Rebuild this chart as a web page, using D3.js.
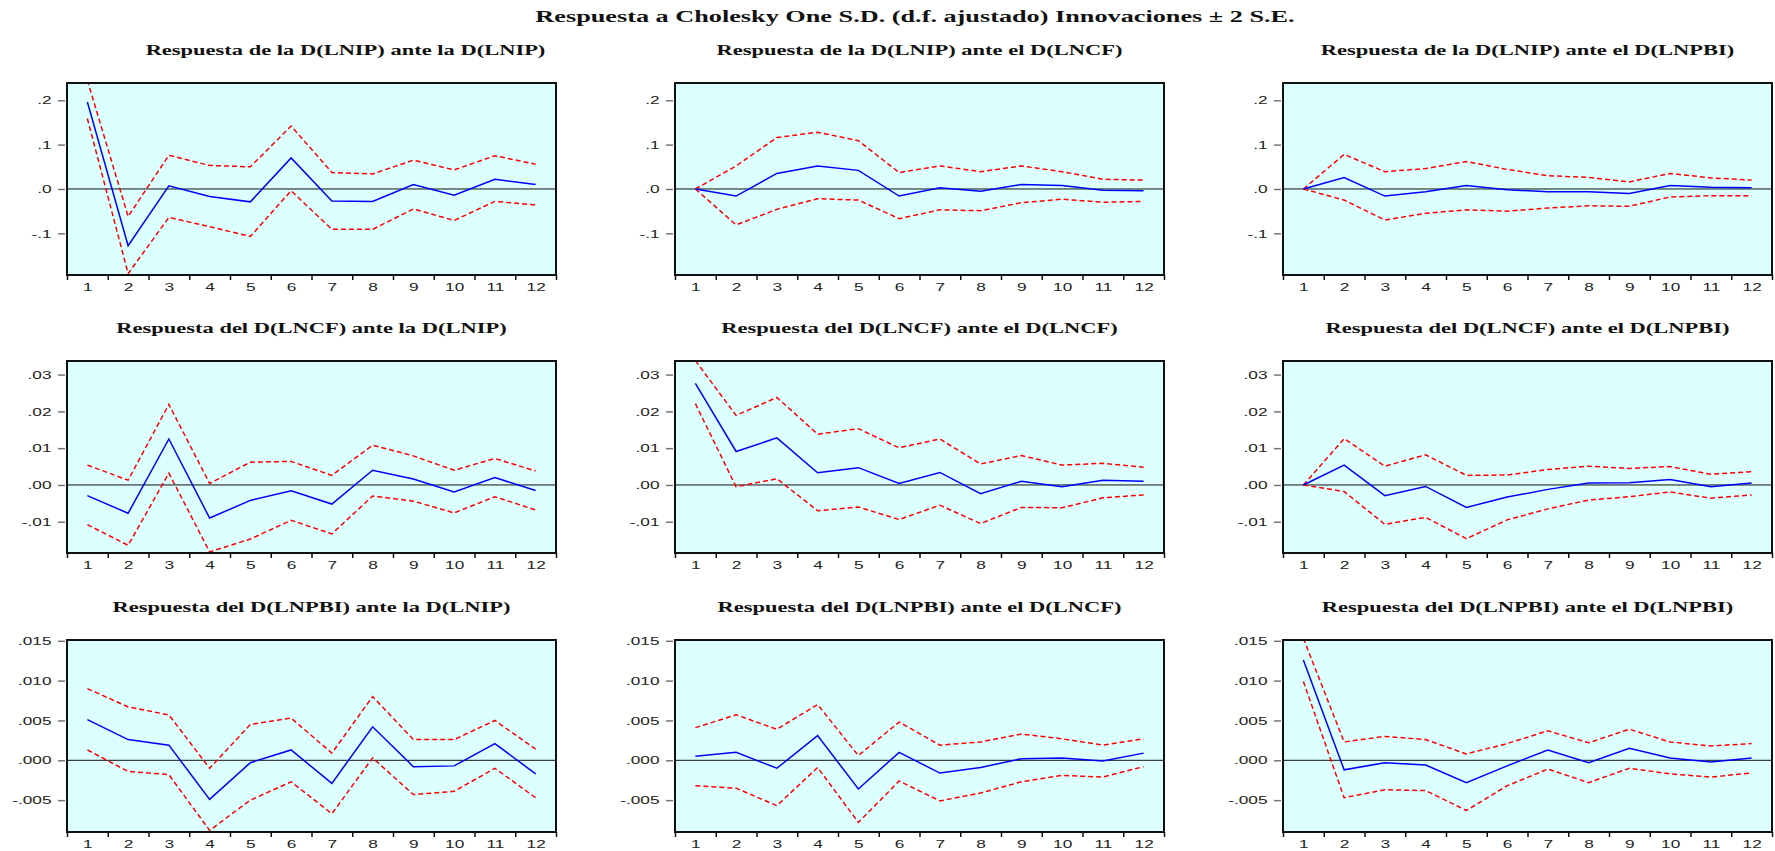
<!doctype html>
<html>
  <head>
    <meta charset="UTF-8">
    <title>Respuesta impulso</title>
    <script src="https://d3js.org/d3.v7.min.js"></script>
    <style>
      body { margin: 0; background: #fff; }
      .ttl { font-family: "Liberation Serif", "Times New Roman", serif; font-weight: bold; fill: #111; }
      .tick text { font-family: "Liberation Sans", Arial, sans-serif; font-size: 11.5px; fill: #222; }
    </style>
  </head>
  <body>
    <svg id="chart" width="1775" height="851"></svg>
    <script>
      // Horizons (periods) on the x axis
      const periods = [1, 2, 3, 4, 5, 6, 7, 8, 9, 10, 11, 12];

      const mainTitle = "Respuesta a Cholesky One S.D. (d.f. ajustado) Innovaciones \u00b1 2 S.E.";
      const panelTitles = [
        "Respuesta de la D(LNIP) ante la D(LNIP)",
        "Respuesta de la D(LNIP) ante el D(LNCF)",
        "Respuesta de la D(LNIP) ante el D(LNPBI)",
        "Respuesta del D(LNCF) ante la D(LNIP)",
        "Respuesta del D(LNCF) ante el D(LNCF)",
        "Respuesta del D(LNCF) ante el D(LNPBI)",
        "Respuesta del D(LNPBI) ante la D(LNIP)",
        "Respuesta del D(LNPBI) ante el D(LNCF)",
        "Respuesta del D(LNPBI) ante el D(LNPBI)"
      ];

      // y ticks per row
      const rowTicks = [
        [-0.1, 0, 0.1, 0.2],
        [-0.01, 0, 0.01, 0.02, 0.03],
        [-0.005, 0, 0.005, 0.01, 0.015]
      ];
      const rowTickLabels = [
        ["-.1", ".0", ".1", ".2"],
        ["-.01", ".00", ".01", ".02", ".03"],
        ["-.005", ".000", ".005", ".010", ".015"]
      ];
      const rowDomains = [[-0.194, 0.239], [-0.0185, 0.0337], [-0.009, 0.0151]];

      // responses of D(LNIP)
      const ipIp    = [0.196, -0.128, 0.007, -0.017, -0.029, 0.070, -0.027, -0.028, 0.010, -0.014, 0.022, 0.010];
      const ipIpHi  = [0.245, -0.062, 0.076, 0.053, 0.050, 0.142, 0.037, 0.034, 0.065, 0.043, 0.075, 0.056];
      const ipIpLo  = [0.159, -0.191, -0.064, -0.085, -0.107, -0.004, -0.091, -0.091, -0.045, -0.071, -0.028, -0.036];
      const ipCf    = [0, -0.016, 0.035, 0.052, 0.042, -0.016, 0.003, -0.005, 0.010, 0.008, -0.003, -0.004];
      const ipCfHi  = [0, 0.052, 0.116, 0.128, 0.109, 0.037, 0.052, 0.039, 0.052, 0.039, 0.022, 0.020];
      const ipCfLo  = [0, -0.081, -0.046, -0.022, -0.025, -0.067, -0.047, -0.049, -0.031, -0.023, -0.030, -0.028];
      const ipPbi   = [0, 0.026, -0.016, -0.006, 0.008, -0.002, -0.006, -0.006, -0.010, 0.008, 0.004, 0.003];
      const ipPbiHi = [0, 0.078, 0.039, 0.046, 0.062, 0.044, 0.030, 0.026, 0.016, 0.035, 0.025, 0.020];
      const ipPbiLo = [0, -0.025, -0.070, -0.055, -0.047, -0.050, -0.043, -0.038, -0.039, -0.018, -0.015, -0.015];

      // responses of D(LNCF)
      const cfIp    = [-0.0029, -0.0077, 0.0125, -0.0090, -0.0042, -0.0016, -0.0052, 0.0040, 0.0016, -0.0019, 0.0020, -0.0015];
      const cfIpHi  = [0.0054, 0.0013, 0.0219, 0.0004, 0.0062, 0.0064, 0.0026, 0.0108, 0.0079, 0.0040, 0.0072, 0.0038];
      const cfIpLo  = [-0.0108, -0.0164, 0.0032, -0.0182, -0.0147, -0.0096, -0.0133, -0.0030, -0.0044, -0.0076, -0.0032, -0.0068];
      const cfCf    = [0.0276, 0.0091, 0.0128, 0.0033, 0.0047, 0.0004, 0.0034, -0.0024, 0.0010, -0.0005, 0.0013, 0.0010];
      const cfCfHi  = [0.0338, 0.0189, 0.0238, 0.0138, 0.0153, 0.0101, 0.0125, 0.0057, 0.0080, 0.0054, 0.0059, 0.0048];
      const cfCfLo  = [0.0221, -0.0005, 0.0017, -0.0070, -0.0060, -0.0094, -0.0055, -0.0105, -0.0061, -0.0062, -0.0035, -0.0027];
      const cfPbi   = [0, 0.0054, -0.0029, -0.0004, -0.0061, -0.0033, -0.0012, 0.0005, 0.0006, 0.0015, -0.0005, 0.0005];
      const cfPbiHi = [0, 0.0126, 0.0051, 0.0082, 0.0026, 0.0027, 0.0042, 0.0051, 0.0045, 0.0050, 0.0029, 0.0036];
      const cfPbiLo = [0, -0.0018, -0.0107, -0.0088, -0.0146, -0.0095, -0.0065, -0.0041, -0.0032, -0.0019, -0.0036, -0.0027];

      // responses of D(LNPBI)
      const pbiIp    = [0.0051, 0.0026, 0.0019, -0.0049, -0.0003, 0.0013, -0.0029, 0.0042, -0.0008, -0.0007, 0.0021, -0.0017];
      const pbiIpHi  = [0.0090, 0.0067, 0.0057, -0.0010, 0.0045, 0.0053, 0.0009, 0.0080, 0.0026, 0.0026, 0.0050, 0.0014];
      const pbiIpLo  = [0.0013, -0.0014, -0.0018, -0.0088, -0.0050, -0.0027, -0.0067, 0.0003, -0.0043, -0.0039, -0.0010, -0.0047];
      const pbiCf    = [0.0005, 0.0010, -0.0010, 0.0031, -0.0036, 0.0010, -0.0016, -0.0009, 0.0002, 0.0003, -0.0001, 0.0009];
      const pbiCfHi  = [0.0041, 0.0057, 0.0039, 0.0070, 0.0006, 0.0048, 0.0019, 0.0023, 0.0033, 0.0027, 0.0019, 0.0027];
      const pbiCfLo  = [-0.0032, -0.0035, -0.0057, -0.0009, -0.0078, -0.0026, -0.0051, -0.0041, -0.0027, -0.0019, -0.0021, -0.0008];
      const pbiPbi   = [0.0126, -0.0012, -0.0003, -0.0006, -0.0028, -0.0007, 0.0013, -0.0003, 0.0015, 0.0003, -0.0002, 0.0003];
      const pbiPbiHi = [0.0153, 0.0023, 0.0030, 0.0026, 0.0008, 0.0021, 0.0037, 0.0022, 0.0039, 0.0023, 0.0018, 0.0021];
      const pbiPbiLo = [0.0099, -0.0047, -0.0037, -0.0038, -0.0063, -0.0032, -0.0011, -0.0028, -0.0010, -0.0017, -0.0021, -0.0016];

      const panels = [
        [ipIp, ipIpHi, ipIpLo], [ipCf, ipCfHi, ipCfLo], [ipPbi, ipPbiHi, ipPbiLo],
        [cfIp, cfIpHi, cfIpLo], [cfCf, cfCfHi, cfCfLo], [cfPbi, cfPbiHi, cfPbiLo],
        [pbiIp, pbiIpHi, pbiIpLo], [pbiCf, pbiCfHi, pbiCfLo], [pbiPbi, pbiPbiHi, pbiPbiLo]
      ];

      // layout (the original graph is stretched sideways, so text is too)
      const sx = 1.5;
      const colX = [67, 675, 1283];
      const rowY = [83, 361, 640];
      const pw = 489, ph = 192;
      const titleNudge = [34, 0, 0, 0, 0, 0, 0, 0, 0];

      const svg = d3.select("#chart");

      svg.append("text")
        .attr("class", "ttl")
        .attr("font-size", 17.5)
        .attr("text-anchor", "middle")
        .attr("transform", `translate(915,22) scale(${sx},1)`)
        .text(mainTitle);

      panels.forEach((series, i) => {
        const r = Math.floor(i / 3), c = i % 3;
        const g = svg.append("g").attr("transform", `translate(${colX[c]},${rowY[r]})`);

        const x = d3.scaleLinear().domain([0.5, 12.5]).range([0, pw]);
        const y = d3.scaleLinear().domain(rowDomains[r]).range([ph, 0]);

        g.append("text")
          .attr("class", "ttl")
          .attr("font-size", 15)
          .attr("text-anchor", "middle")
          .attr("transform", `translate(${pw / 2 + titleNudge[i]},-28) scale(${sx},1)`)
          .text(panelTitles[i]);

        g.append("rect")
          .attr("width", pw).attr("height", ph)
          .attr("fill", "#dcffff");

        const clipId = "clip" + i;
        g.append("clipPath").attr("id", clipId)
          .append("rect").attr("width", pw).attr("height", ph);

        // y axis
        const yAxis = g.append("g")
          .attr("transform", "translate(-2,0)")
          .call(d3.axisLeft(y)
            .tickValues(rowTicks[r])
            .tickFormat((d, k) => rowTickLabels[r][k])
            .tickSize(7));
        yAxis.select(".domain").remove();
        yAxis.selectAll(".tick line").attr("stroke", "#777").attr("stroke-width", 1.5);
        yAxis.selectAll(".tick text")
          .attr("x", -13.5 / sx)
          .attr("transform", `scale(${sx},1)`);

        // x axis: marks between periods, labels at the periods
        const xMarks = g.append("g")
          .attr("transform", `translate(0,${ph})`)
          .call(d3.axisBottom(x)
            .tickValues(d3.range(0.5, 13, 1))
            .tickFormat("")
            .tickSize(5));
        xMarks.select(".domain").remove();
        xMarks.selectAll(".tick line").attr("stroke", "#111").attr("stroke-width", 1.5);

        const xLabels = g.append("g")
          .attr("transform", `translate(0,${ph})`)
          .call(d3.axisBottom(x)
            .tickValues(periods)
            .tickFormat(d3.format("d"))
            .tickSize(0)
            .tickPadding(8));
        xLabels.select(".domain").remove();
        xLabels.selectAll(".tick text")
          .attr("transform", `scale(${sx},1)`);

        const plot = g.append("g").attr("clip-path", `url(#${clipId})`);

        plot.append("line")
          .attr("x1", 0).attr("x2", pw)
          .attr("y1", y(0)).attr("y2", y(0))
          .attr("stroke", "#111").attr("stroke-width", 1);

        const line = d3.line()
          .x((d, k) => x(periods[k]))
          .y(d => y(d));

        [series[1], series[2]].forEach(band => {
          plot.append("path")
            .attr("d", line(band))
            .attr("fill", "none")
            .attr("stroke", "#ff0000")
            .attr("stroke-width", 1.5)
            .attr("stroke-dasharray", "5,3");
        });

        plot.append("path")
          .attr("d", line(series[0]))
          .attr("fill", "none")
          .attr("stroke", "#0000ff")
          .attr("stroke-width", 1.5);

        g.append("rect")
          .attr("width", pw).attr("height", ph)
          .attr("fill", "none")
          .attr("stroke", "#111")
          .attr("stroke-width", 2);
      });
    </script>
  </body>
</html>
